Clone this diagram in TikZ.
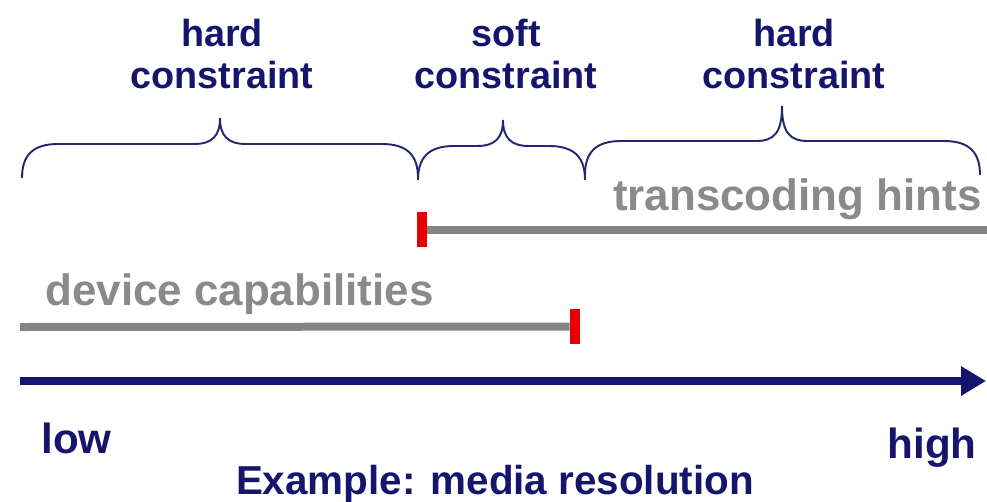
\documentclass[tikz,border=0pt]{standalone}
\usepackage{fontspec}
\setmainfont{Liberation Sans}
\usetikzlibrary{arrows.meta}

\definecolor{navy}{HTML}{15156E}
\definecolor{bracecol}{HTML}{26266E}
\definecolor{hintgray}{HTML}{8A8A8A}
\definecolor{bargray}{HTML}{858585}
\definecolor{markred}{HTML}{E60000}

% curly brace: left x, middle x, right x, y of the ends, y of the tip
\newcommand{\cbrace}[5]{%
  \draw[brc] (#1,#4) .. controls (#1,#4-22) and (#1+10,#4-34) .. (#1+36,#4-34)
    -- (#2-26,#4-34) .. controls (#2-8,#4-34) and (#2,#4-42) .. (#2,#5)
    .. controls (#2,#4-42) and (#2+8,#4-34) .. (#2+26,#4-34)
    -- (#3-36,#4-34) .. controls (#3-10,#4-34) and (#3,#4-22) .. (#3,#4);}

\begin{document}
\begin{tikzpicture}[
    x=0.02cm, y=-0.02cm,
    toplbl/.style={anchor=base, align=center, inner sep=0pt, text=navy,
                font=\bfseries\fontsize{21.5}{23.8}\selectfont},
    hint/.style={anchor=base, inner sep=0pt, text=hintgray,
                font=\bfseries\fontsize{25}{28}\selectfont},
    axlbl/.style={anchor=base, inner sep=0pt, text=navy,
                font=\bfseries\fontsize{24}{27}\selectfont},
    brc/.style={draw=bracecol, line width=1.1pt},
    bar/.style={draw=bargray, line width=0.16cm},
    redtick/.style={rectangle, fill=markred, inner sep=0pt,
                minimum width=0.2cm, minimum height=0.7cm},
    axis/.style={draw=navy, line width=0.16cm,
                -{Triangle[length=0.5cm, width=0.56cm]}}
]
    \useasboundingbox (0,0) rectangle (987,501);

    % constraint labels and braces
    \node[toplbl] (hardlo) at (222,88) {hard\\constraint};
    \node[toplbl] (soft) at (506,88) {soft\\constraint};
    \node[toplbl] (hardhi) at (794,88) {hard\\constraint};

    \cbrace{22}{220}{418}{178}{118}
    \cbrace{418}{503}{585}{180}{120}
    \cbrace{585}{782}{980}{175}{106}

    % transcoding hints
    \node[hint, anchor=base east] (hints) at (982,210) {transcoding hints};
    \node[redtick] (hintsmark) at (422,229.5) {};
    \coordinate (hintsend) at (987,229.5);
    \draw[bar] (hintsmark.east) -- (hintsend);

    % device capabilities
    \node[hint, anchor=base west] (caps) at (45,305) {device capabilities};
    \node[redtick] (capsmark) at (575,326.5) {};
    \coordinate (capsstart) at (20,327);
    \draw[bar] (capsstart) -- (capsmark.west);

    % resolution axis
    \coordinate (axl) at (20,381);
    \coordinate (axr) at (986,381);
    \draw[axis] (axl) -- (axr);

    \node[axlbl, anchor=base west] (low) at (41,453) {low};
    \node[axlbl, anchor=base east] (high) at (977,458) {high};
    \node[axlbl, font=\bfseries\fontsize{23}{26}\selectfont] (example) at (495,494) {Example: media resolution};
\end{tikzpicture}
\end{document}
